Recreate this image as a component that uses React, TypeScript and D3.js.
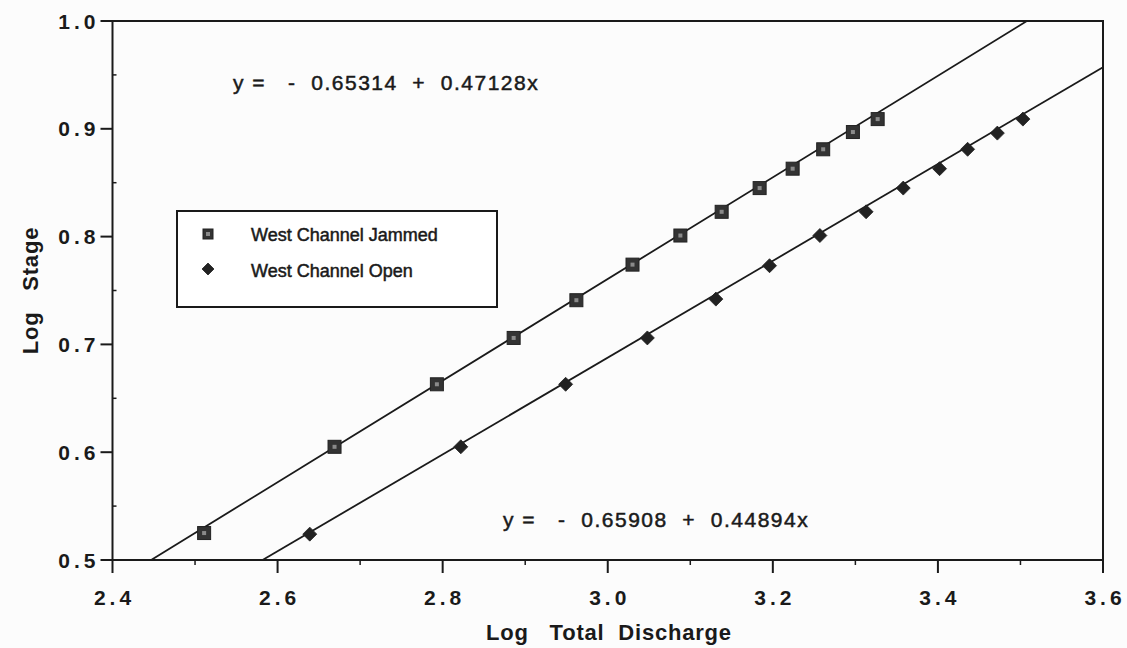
import React from "react";
import * as d3 from "d3";

// Log total discharge / log stage observations for the two channel states
const jammedDischarge = [2.511, 2.669, 2.793, 2.886, 2.962, 3.030, 3.088, 3.138, 3.184, 3.224, 3.261, 3.297, 3.327];
const jammedStage = [0.525, 0.605, 0.663, 0.706, 0.741, 0.774, 0.801, 0.823, 0.845, 0.863, 0.881, 0.897, 0.909];
const openDischarge = [2.639, 2.822, 2.949, 3.048, 3.131, 3.196, 3.257, 3.313, 3.358, 3.402, 3.436, 3.472, 3.503];
const openStage = [0.524, 0.605, 0.663, 0.706, 0.742, 0.773, 0.801, 0.823, 0.845, 0.863, 0.881, 0.896, 0.909];

// Regression fits: stage = intercept + slope * discharge
const fitIntercepts = [-0.65314, -0.65908];
const fitSlopes = [0.47128, 0.44894];
const fitLabels = ["y =   -  0.65314  +  0.47128x", "y =   -  0.65908  +  0.44894x"];

const seriesNames = ["West Channel Jammed", "West Channel Open"];
const xTicks = [2.4, 2.6, 2.8, 3.0, 3.2, 3.4, 3.6];
const xMinor = [2.5, 2.7, 2.9, 3.1, 3.3, 3.5];
const yTicks = [0.5, 0.6, 0.7, 0.8, 0.9, 1.0];
const yMinor = [0.55, 0.65, 0.75, 0.85, 0.95];

const W = 1127;
const H = 648;
const left = 112.5;
const right = 1103;
const top = 21;
const bottom = 560;

const x = d3.scaleLinear().domain([2.4, 3.6]).range([left, right]);
const y = d3.scaleLinear().domain([0.5, 1.0]).range([bottom, top]);

const font = "'Liberation Sans', Arial, Helvetica, sans-serif";
const ink = "#1a1a1a";
const pre: React.CSSProperties = { whiteSpace: "pre" };

function fitSegment(i: number): [number, number][] {
  const a = fitIntercepts[i];
  const b = fitSlopes[i];
  // clip the fitted line to the plotting window
  const x0 = Math.max(2.4, (0.5 - a) / b);
  const x1 = Math.min(3.6, (1.0 - a) / b);
  return [
    [x(x0), y(a + b * x0)],
    [x(x1), y(a + b * x1)],
  ];
}

function Square({ cx, cy, s = 13 }: { cx: number; cy: number; s?: number }) {
  return (
    <g>
      <rect x={cx - s / 2} y={cy - s / 2} width={s} height={s} fill="#333" stroke="#222" strokeWidth={1} />
      <rect x={cx - 2} y={cy - 2} width={4} height={4} fill="#8a8a8a" />
    </g>
  );
}

function Diamond({ cx, cy, r = 7 }: { cx: number; cy: number; r?: number }) {
  const p = `M${cx},${cy - r}L${cx + r},${cy}L${cx},${cy + r}L${cx - r},${cy}Z`;
  return <path d={p} fill="#222" stroke="#222" strokeWidth={0.8} />;
}

export default function App() {
  const line = d3.line();
  return (
    <svg
      width={W}
      height={H}
      style={{ position: "absolute", left: 0, top: 0, background: "#fff" }}
      fontFamily={font}
    >
      <rect x={0} y={0} width={W} height={H} fill="#fcfcfc" />

      {/* plot frame */}
      <rect x={left} y={top} width={right - left} height={bottom - top} fill="none" stroke={ink} strokeWidth={2} />

      {/* y axis ticks */}
      {yTicks.map((t) => (
        <g key={"yt" + t}>
          <line x1={left - 12} x2={left} y1={y(t)} y2={y(t)} stroke={ink} strokeWidth={2} />
          <text
            x={left - 13}
            y={y(t)}
            dy="0.36em"
            textAnchor="end"
            fontSize={21}
            fontWeight="bold"
            letterSpacing={4}
            fill={ink}
          >
            {t.toFixed(1)}
          </text>
        </g>
      ))}
      {yMinor.map((t) => (
        <line key={"ym" + t} x1={left} x2={left + 4} y1={y(t)} y2={y(t)} stroke={ink} strokeWidth={1.5} />
      ))}

      {/* x axis ticks */}
      {xTicks.map((t) => (
        <g key={"xt" + t}>
          <line x1={x(t)} x2={x(t)} y1={bottom} y2={bottom + 13} stroke={ink} strokeWidth={2} />
          <text
            x={x(t) + 2}
            y={bottom + 45}
            textAnchor="middle"
            fontSize={21}
            fontWeight="bold"
            letterSpacing={4}
            fill={ink}
          >
            {t.toFixed(1)}
          </text>
        </g>
      ))}
      {xMinor.map((t) => (
        <line key={"xm" + t} x1={x(t)} x2={x(t)} y1={bottom} y2={bottom + 5} stroke={ink} strokeWidth={1.5} />
      ))}

      {/* axis titles */}
      <text
        x={609}
        y={640}
        textAnchor="middle"
        fontSize={22}
        fontWeight="bold"
        letterSpacing={0.8}
        fill={ink}
        style={pre}
      >
        {"Log   Total  Discharge"}
      </text>
      <text
        transform={`translate(38, ${(top + bottom) / 2}) rotate(-90)`}
        textAnchor="middle"
        fontSize={22}
        fontWeight="bold"
        letterSpacing={0.8}
        fill={ink}
        style={pre}
      >
        {"Log   Stage"}
      </text>

      {/* fitted lines */}
      {[0, 1].map((i) => (
        <path key={"fit" + i} d={line(fitSegment(i)) || ""} fill="none" stroke={ink} strokeWidth={1.8} />
      ))}

      {/* observations */}
      {jammedDischarge.map((d, i) => (
        <Square key={"j" + i} cx={x(d)} cy={y(jammedStage[i])} />
      ))}
      {openDischarge.map((d, i) => (
        <Diamond key={"o" + i} cx={x(d)} cy={y(openStage[i])} />
      ))}

      {/* regression equations */}
      <text x={233} y={90} fontSize={21} letterSpacing={1.5} fill={ink} stroke={ink} strokeWidth={0.5} style={pre}>
        {fitLabels[0]}
      </text>
      <text x={503} y={527} fontSize={21} letterSpacing={1.5} fill={ink} stroke={ink} strokeWidth={0.5} style={pre}>
        {fitLabels[1]}
      </text>

      {/* legend */}
      <rect x={177} y={211} width={320} height={96} fill="#fff" stroke={ink} strokeWidth={2} />
      <Square cx={208} cy={234} s={10} />
      <Diamond cx={208} cy={269} r={6} />
      <text x={251} y={241} fontSize={18} fill={ink} stroke={ink} strokeWidth={0.5}>
        {seriesNames[0]}
      </text>
      <text x={251} y={277} fontSize={18} fill={ink} stroke={ink} strokeWidth={0.5}>
        {seriesNames[1]}
      </text>
    </svg>
  );
}
